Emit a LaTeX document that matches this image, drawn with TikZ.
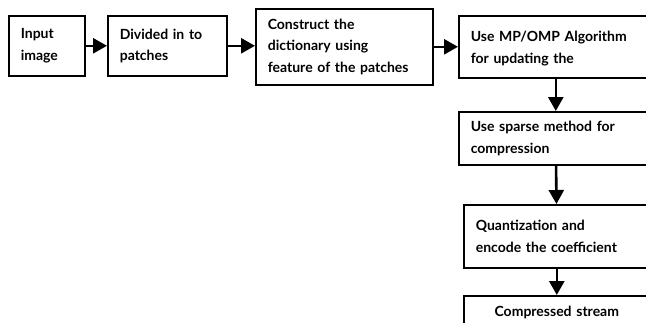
\documentclass[tikz,border=0pt]{standalone}
\usepackage{fontspec}
\setmainfont{Lato}
\usetikzlibrary{arrows.meta}

\begin{document}
\begin{tikzpicture}[x=1pt, y=-1pt,
    box/.style={draw, line width=1.6pt, inner xsep=12pt, inner ysep=0pt, align=left, anchor=north west,
      font=\fontsize{14}{21.5}\selectfont\bfseries},
    flow/.style={line width=2.6pt, -{Triangle[length=14pt, width=15pt]}}]
  \useasboundingbox (0,0) rectangle (646,322);
  \clip (0,0) rectangle (646,322);
  % top row
  \node[box, text width=52pt, minimum height=60pt] (input) at (8,15) {Input\\image};
  \node[box, text width=95pt, minimum height=60pt] (patches) at (107,15) {Divided in to\\patches};
  \node[box, text width=153pt, minimum height=76pt] (dict) at (255,8) {Construct the\\dictionary using\\feature of the patches};
  \node[box, text width=170pt, minimum height=62pt, text depth=21pt] (update) at (458,15) {Use MP/OMP Algorithm\\for updating the};
  % right column
  \node[box, text width=170pt, minimum height=53pt] (sparse) at (458,111) {Use sparse method for\\compression};
  \node[box, text width=162pt, minimum height=63pt] (quant) at (463,204) {Quantization and\\encode the coefficient};
  \node[box, text width=162pt, minimum height=34pt, align=center] (stream) at (463,295) {Compressed stream};
  \draw[flow] (input) -- (patches);
  \draw[flow] (patches.east) -- (patches.east -| dict.west);
  \draw[flow] (dict) -- (update);
  \draw[flow] (update) -- (sparse);
  \draw[flow] (sparse) -- (quant);
  \draw[flow] (quant) -- (stream);
\end{tikzpicture}
\end{document}
